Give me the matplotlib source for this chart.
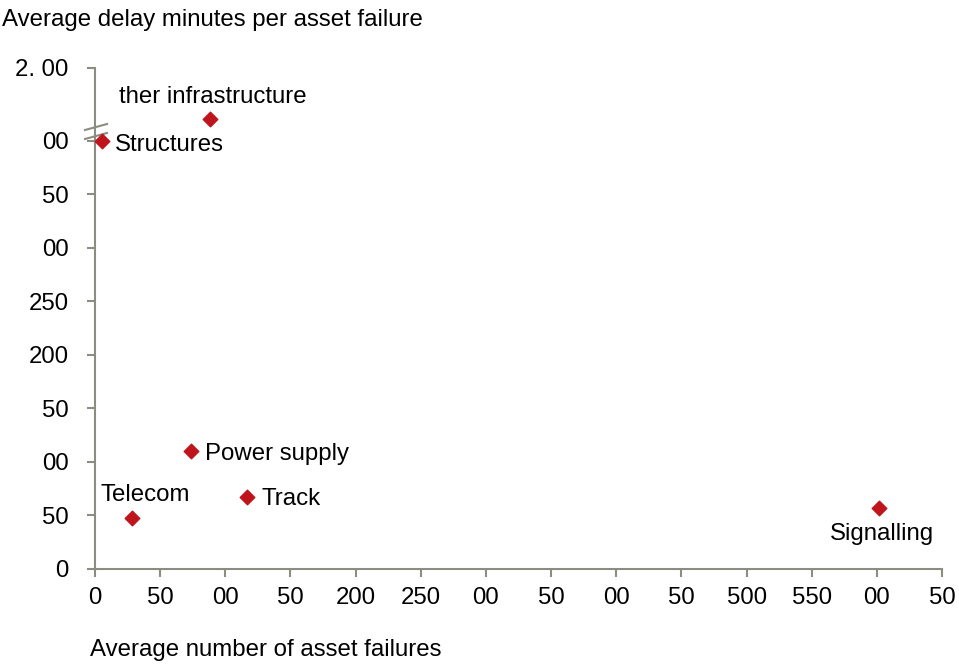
import matplotlib
matplotlib.use("Agg")
from matplotlib import pyplot as plt

plt.rcParams['font.family'] = ['Liberation Sans', 'DejaVu Sans']

# asset categories: failures vs delay minutes per failure
categories = ["Structures", "ther infrastructure", "Power supply", "Track", "Telecom", "Signalling"]
failures = [5, 88, 74, 117, 28, 602]
delay = [400, 420, 110, 67, 48, 57]
# label offsets in pixels (dx, dy) and alignment
label_dx = [13, 3, 14, 14, 14, 2]
label_dy = [-4, 22, -3, -2, 23, -26]
label_ha = ["left", "center", "left", "left", "center", "center"]

x_ticks = [0, 50, 100, 150, 200, 250, 300, 350, 400, 450, 500, 550, 600, 650]
x_labels = ["0", "50", "00", "50", "200", "250", "00", "50", "00", "50", "500", "550", "00", "50"]
y_ticks = [0, 50, 100, 150, 200, 250, 300, 350, 400, 468]
y_labels = ["0", "50", "00", "50", "200", "250", "00", "50", "00", "2. 00"]

axis_col = "#8c8c80"
red = "#c0141c"
fs = 17.3

fig = plt.figure(figsize=(9.59, 6.64), dpi=100)
ax = fig.add_axes([0.0991, 0.1431, 0.8832, 0.7545])

ax.scatter(failures, delay, marker="D", s=55, color=red, zorder=3, clip_on=False)
for i, name in enumerate(categories):
    ax.annotate(name, (failures[i], delay[i]), xytext=(label_dx[i], label_dy[i]),
                textcoords="offset pixels", ha=label_ha[i], va="center", fontsize=fs)

ax.set_xlim(0, 650)
ax.set_ylim(0, 468)
ax.set_xticks(x_ticks)
ax.set_xticklabels(x_labels)
ax.set_yticks(y_ticks)
ax.set_yticklabels(y_labels)

for side in ["top", "right"]:
    ax.spines[side].set_visible(False)
for side in ["left", "bottom"]:
    ax.spines[side].set_color(axis_col)
    ax.spines[side].set_linewidth(1.5)
ax.tick_params(axis="both", colors=axis_col, width=1.5, length=6, labelsize=fs,
               labelcolor="black")
ax.tick_params(axis="x", pad=7)
ax.tick_params(axis="y", pad=13)

# axis break marks on the y axis (sizes in pixels of the axes box)
w_px, h_px = 847.0, 501.0
for y_lo in [130, 139]:
    ax.plot([-10 / w_px, 12 / w_px],
            [(569 - y_lo) / h_px, (569 - y_lo + 6) / h_px],
            transform=ax.transAxes, color=axis_col, lw=1.5, clip_on=False)

fig.text(2 / 959, 1 - 20 / 664, "Average delay minutes per asset failure",
         fontsize=fs, va="center", ha="left")
fig.text(90 / 959, 1 - 650 / 664, "Average number of asset failures",
         fontsize=fs, va="center", ha="left")

fig.savefig("out.png", dpi=100)
